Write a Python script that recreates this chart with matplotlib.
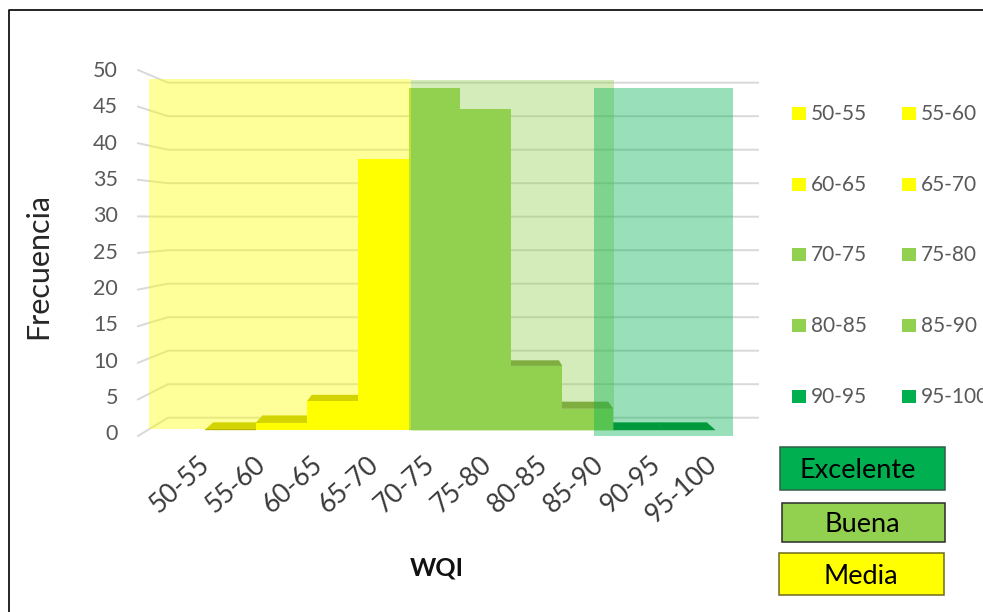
import matplotlib
matplotlib.use("Agg")
import matplotlib.pyplot as plt
from matplotlib.patches import Polygon, Rectangle

plt.rcParams['font.family'] = ['Lato', 'DejaVu Sans']

categories = ["50-55", "55-60", "60-65", "65-70", "70-75",
              "75-80", "80-85", "85-90", "90-95", "95-100"]
frequency = [0, 1, 4, 38, 48, 45, 9, 3, 0, 0]
y_ticks = [0, 5, 10, 15, 20, 25, 30, 35, 40, 45, 50]

YELLOW = "#ffff00"
GREEN = "#92d050"
DARK_GREEN = "#00b050"
bar_colors = [YELLOW] * 4 + [GREEN] * 4 + [DARK_GREEN] * 2
top_colors = ["#b7b700"] * 4 + ["#739734"] * 4 + ["#008a2f"] * 2

W, H = 983, 612
fig = plt.figure(figsize=(W / 100, H / 100), dpi=100)


def pixel_axes(z):
    a = fig.add_axes([0, 0, 1, 1], zorder=z)
    a.set_xlim(0, W)
    a.set_ylim(H, 0)
    a.axis("off")
    a.patch.set_alpha(0)
    return a


back = pixel_axes(1)
front = pixel_axes(3)

# bars get their own axes, in category / count units
BAR_W, BAR_X0 = 51.0, 230.5
UNIT, BASE_Y = 7.13, 430.0
ax = fig.add_axes([0, 0, 1, 1], zorder=2)
ax.set_xlim(-BAR_X0 / BAR_W, (W - BAR_X0) / BAR_W)
ax.set_ylim((BASE_Y - H) / UNIT, BASE_Y / UNIT)
ax.axis("off")
ax.patch.set_alpha(0)

# walls of the 3D box
for v in y_ticks:
    back_y = 417.7 - v * 6.7
    front_y = 436.0 - v * 7.32
    back.plot([138, 168, 758], [front_y, back_y, back_y],
              color="#d9d9d9", lw=1.4, solid_joinstyle="round")
    front.text(118, 434.5 - v * 7.27, str(v), ha="right", va="center",
               fontsize=15.5, color="#595959")

# pseudo 3D top faces, pulled toward a vanishing point
VP_X, VP_V = 4.5, 32.3
DEPTH = 0.032


def to_back(x, v):
    return x + (VP_X - x) * DEPTH, v + (VP_V - v) * DEPTH


xs = list(range(len(categories)))
ax.bar(xs, frequency, width=1.0, color=bar_colors, linewidth=0, zorder=3)
for x, v, c in zip(xs, frequency, top_colors):
    if v < VP_V:
        x0, x1 = x - 0.5, x + 0.5
        ax.add_patch(Polygon([(x0, v), (x1, v), to_back(x1, v), to_back(x0, v)],
                             closed=True, facecolor=c, edgecolor=c, lw=0.3, zorder=2))

# quality bands laid over the plot
bands = [(149, 79, 411, 428.5, YELLOW),
         (411, 80, 614, 430.5, GREEN),
         (594, 88, 733, 436, DARK_GREEN)]
for x0, y0, x1, y1, c in bands:
    front.add_patch(Rectangle((x0, y0), x1 - x0, y1 - y0, facecolor=c,
                              edgecolor="none", alpha=0.4))

# category labels
for i, label in enumerate(categories):
    front.text(206 + 56.4 * i, 461, label, rotation=42, rotation_mode="anchor",
               ha="right", va="center", fontsize=19, color="#3a3a3a")

front.text(38, 266, "Frecuencia", rotation=90, ha="center", va="center",
           fontsize=22, color="#262626")
front.text(437, 568, "WQI", ha="center", va="center", fontsize=18,
           fontweight="bold", color="#111111")

# legend, two columns
legend_rows = [113, 184, 254, 325, 396]
for i, label in enumerate(categories):
    row = legend_rows[i // 2]
    x = 792 if i % 2 == 0 else 902
    front.add_patch(Rectangle((x, row - 6.5), 13.5, 13.5, facecolor=bar_colors[i],
                              edgecolor="none"))
    front.text(x + 19, row + 1, label, ha="left", va="center", fontsize=15,
               color="#595959", clip_on=True)

# class boxes
class_names = ["Excelente", "Buena", "Media"]
class_boxes = [(780, 447, 945, 489.5, DARK_GREEN, "#2f5f45", 858, 471),
               (782, 502.5, 944.5, 541.5, GREEN, "#2b2b2b", 862, 524),
               (779, 553, 943.5, 595, YELLOW, "#6b6b20", 861, 576)]
for name, (x0, y0, x1, y1, c, ec, tx, ty) in zip(class_names, class_boxes):
    front.add_patch(Rectangle((x0, y0), x1 - x0, y1 - y0, facecolor=c,
                              edgecolor=ec, lw=1.1))
    front.text(tx, ty, name, ha="center", va="center", fontsize=19.5, color="black")

# outer frame, open at the right and bottom
front.plot([9, 9, W], [H, 10, 10], color="black", lw=1.2, clip_on=False)

fig.savefig("out.png", dpi=100)
